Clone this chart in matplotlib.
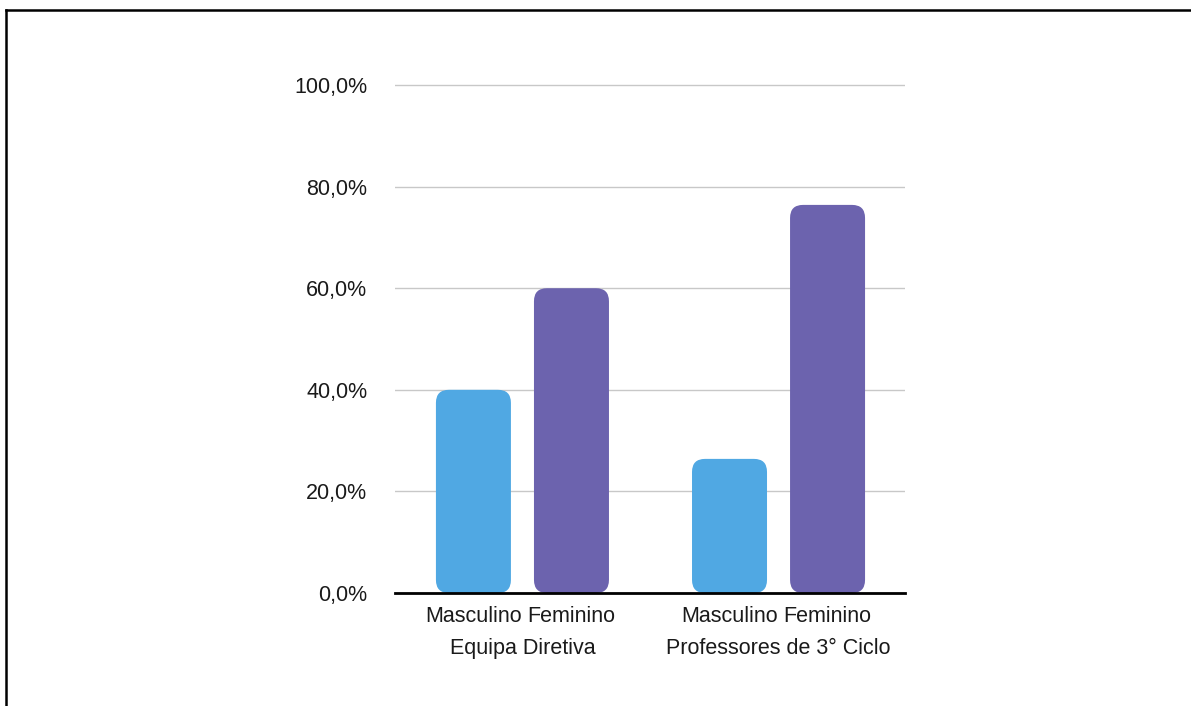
import numpy as np
import matplotlib
matplotlib.use('Agg')
import matplotlib.pyplot as plt
import matplotlib.transforms as mtransforms
from matplotlib.patches import FancyBboxPatch
from matplotlib.lines import Line2D

plt.rcParams['font.family'] = ['Liberation Sans', 'DejaVu Sans']

grupos = ['Equipa Diretiva', 'Professores de 3° Ciclo']
generos = ['Masculino', 'Feminino']
masculino = [40.0, 26.4]
feminino = [60.0, 76.4]
cores = ['#50a8e3', '#6c63ae']
y_ticks = [0, 20, 40, 60, 80, 100]
y_labels = ['0,0%', '20,0%', '40,0%', '60,0%', '80,0%', '100,0%']

W, H = 1191, 706
fig = plt.figure(figsize=(W / 100, H / 100), dpi=100)
ax = fig.add_axes([395 / W, 1 - 593 / H, 510 / W, 509 / H])

largura = 0.765
passo_grupo = 2.612
xmin, xmax = -0.80, passo_grupo + 1 + 0.79
ymax = 100.2
ax.set_xlim(xmin, xmax)
ax.set_ylim(0, ymax)

# px per data unit, used to keep the corner rounding circular
px_x = 510 / (xmax - xmin)
px_y = 509 / ymax
raio = 13 / px_x

posicoes = []
rotulos = []
for g, vals in enumerate(zip(masculino, feminino)):
    for b, v in enumerate(vals):
        x = g * passo_grupo + b
        posicoes.append(x)
        rotulos.append(generos[b])
        ax.add_patch(FancyBboxPatch((x - largura / 2, 0), largura, v,
                                    boxstyle='round,pad=0,rounding_size=%f' % raio,
                                    mutation_aspect=px_x / px_y,
                                    facecolor=cores[b], edgecolor='none', zorder=3))

ax.set_yticks(y_ticks)
ax.set_yticklabels(y_labels, fontsize=15.5, color='#1a1a1a')
ax.set_xticks(posicoes)
ax.set_xticklabels(rotulos, fontsize=15.5, color='#1a1a1a')
ax.tick_params(axis='y', length=0, pad=20)
ax.tick_params(axis='x', length=0, pad=9)

ax.yaxis.grid(True, color='#c8c8c8', linewidth=1.0, zorder=0)
ax.set_axisbelow(True)
for s in ['top', 'right', 'left']:
    ax.spines[s].set_visible(False)
ax.spines['bottom'].set_linewidth(2)
ax.spines['bottom'].set_color('black')
ax.spines['bottom'].set_zorder(4)

trans = mtransforms.blended_transform_factory(ax.transData, ax.transAxes)
for g, nome in enumerate(grupos):
    ax.text(g * passo_grupo + 0.5, -0.11, nome, transform=trans,
            ha='center', va='center', fontsize=15.5, color='#1a1a1a')

# outer frame (left and top edges)
fig.add_artist(Line2D([6 / W, 6 / W], [0, 1 - 10 / H], transform=fig.transFigure,
                      color='black', linewidth=1.8))
fig.add_artist(Line2D([6 / W, 1], [1 - 10 / H, 1 - 10 / H], transform=fig.transFigure,
                      color='black', linewidth=1.8))

fig.savefig('out.png', dpi=100, facecolor='white')
